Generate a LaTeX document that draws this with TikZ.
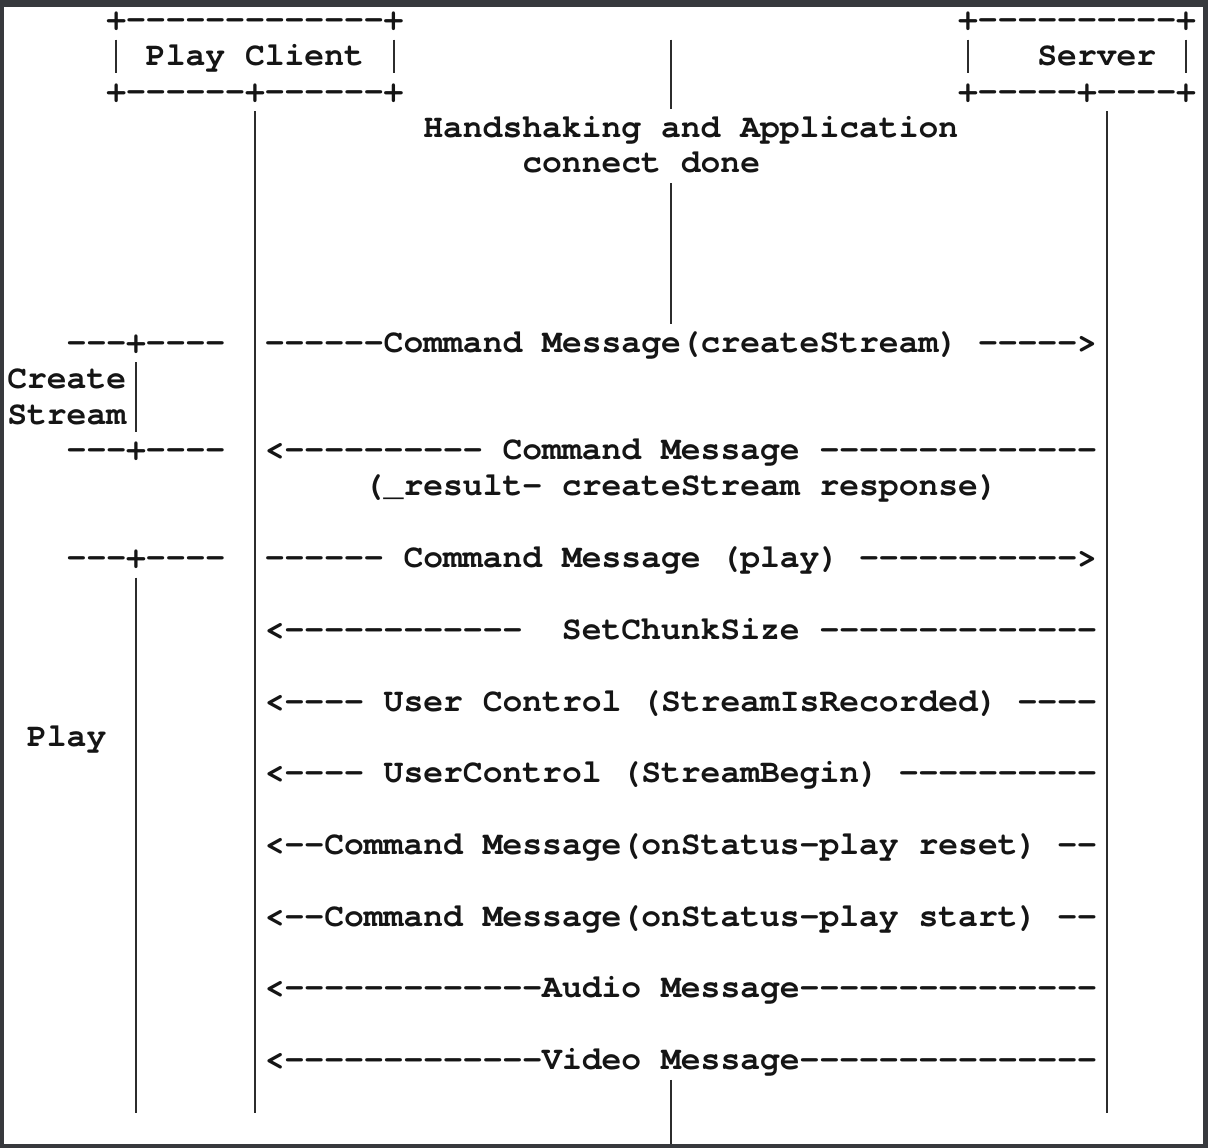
\documentclass[tikz,border=0pt]{standalone}
\usepackage{fontspec}
\newfontfamily\cur{texgyrecursor}[Extension=.otf,UprightFont=*-regular,BoldFont=*-bold,Ligatures=TeXOff]
\definecolor{frame}{HTML}{37393D}
\definecolor{ink}{HTML}{151515}
\begin{document}
\begin{tikzpicture}[x=9.905pt,y=-17.935pt,
  txt/.style={anchor=base west,inner sep=0pt,outer sep=0pt,text=ink,font=\cur\bfseries\fontsize{16.51}{20}\selectfont},
  bar/.style={draw=ink!90,line width=1pt}]
\useasboundingbox (-0.3685,-0.8224) rectangle (60.611,31.182);
\fill[frame] (-0.3685,-0.8224) rectangle (60.611,31.182);
\fill[white] (-0.1666,-0.6133) rectangle (60.358,31.07);

% participant boxes
\node[txt] (cbTop) at (5,0) {+-------------+};
\node[txt] (cbName) at (7,1) {Play Client};
\node[txt] (cbBot) at (5,2) {+------+------+};
\node[txt] (sbTop) at (48,0) {+----------+};
\node[txt] (sbName) at (52,1) {Server};
\node[txt] (sbBot) at (48,2) {+-----+----+};
\coordinate (cbLa) at (5.5,0.28);  \coordinate (cbLb) at (5.5,1.22);
\coordinate (cbRa) at (19.5,0.28); \coordinate (cbRb) at (19.5,1.22);
\coordinate (sbLa) at (48.5,0.28); \coordinate (sbLb) at (48.5,1.22);
\coordinate (sbRa) at (59.5,0.28); \coordinate (sbRb) at (59.5,1.22);
\draw[bar] (cbLa) -- (cbLb);
\draw[bar] (cbRa) -- (cbRb);
\draw[bar] (sbLa) -- (sbLb);
\draw[bar] (sbRa) -- (sbRb);

% handshake note
\node[txt] (hs1) at (21,3) {Handshaking and Application};
\node[txt] (hs2) at (26,4) {connect done};

% middle line
\coordinate (m1a) at (33.5,0.28);  \coordinate (m1b) at (33.5,2.22);
\coordinate (m2a) at (33.5,4.28);  \coordinate (m2b) at (33.5,8.22);
\coordinate (m3a) at (33.5,29.28); \coordinate (m3b) at (33.5,31.07);
\draw[bar] (m1a) -- (m1b);
\draw[bar] (m2a) -- (m2b);
\draw[bar] (m3a) -- (m3b);

% lifelines
\coordinate (clA) at (12.5,2.28); \coordinate (clB) at (12.5,30.22);
\coordinate (svA) at (55.5,2.28); \coordinate (svB) at (55.5,30.22);
\draw[bar] (clA) -- (clB);
\draw[bar] (svA) -- (svB);

% left brackets
\node[txt] (csTop) at (3,9) {---+----};
\node[txt] (csL1) at (0,10) {Create};
\node[txt] (csL2) at (0,11) {Stream};
\node[txt] (csBot) at (3,12) {---+----};
\node[txt] (plTop) at (3,15) {---+----};
\node[txt] (plL) at (1,20) {Play};
\coordinate (csA) at (6.5,9.28);  \coordinate (csB) at (6.5,11.22);
\coordinate (plA) at (6.5,15.28); \coordinate (plB) at (6.5,30.22);
\draw[bar] (csA) -- (csB);
\draw[bar] (plA) -- (plB);

% messages
\node[txt] (msg1) at (13,9) {------Command Message(createStream) ----->};
\node[txt] (msg2) at (13,12) {<---------- Command Message --------------};
\node[txt] (msg2b) at (18,13) {(\_result- createStream response)};
\node[txt] (msg3) at (13,15) {------ Command Message (play) ----------->};
\node[txt] (msg4a) at (13,17) {<------------};
\node[txt] (msg4b) at (28,17) {SetChunkSize --------------};
\node[txt] (msg5) at (13,19) {<---- User Control (StreamIsRecorded) ----};
\node[txt] (msg6) at (13,21) {<---- UserControl (StreamBegin) ----------};
\node[txt] (msg7) at (13,23) {<--Command Message(onStatus-play reset) --};
\node[txt] (msg8) at (13,25) {<--Command Message(onStatus-play start) --};
\node[txt] (msg9) at (13,27) {<-------------Audio Message---------------};
\node[txt] (msg10) at (13,29) {<-------------Video Message---------------};
\end{tikzpicture}
\end{document}
